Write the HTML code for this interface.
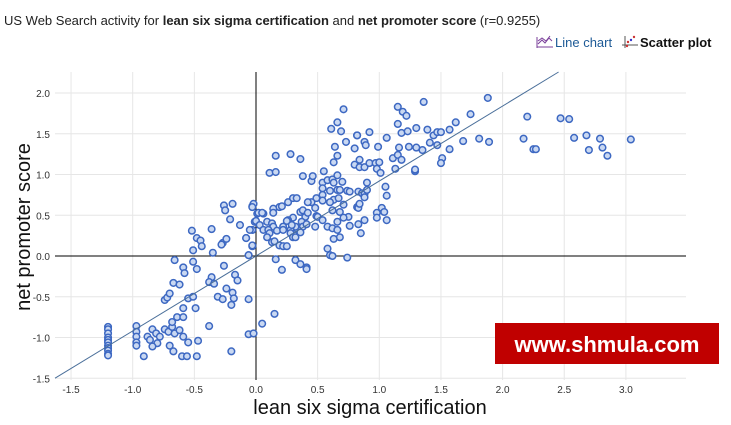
<!DOCTYPE html>
<html><head><meta charset="utf-8">
<style>
body{margin:0;width:731px;height:425px;background:#fff;overflow:hidden;font-family:"Liberation Sans",sans-serif;}
</style></head>
<body>
<svg id="chart" width="731" height="425" xmlns="http://www.w3.org/2000/svg" style="position:absolute;left:0;top:0">
<text x="4" y="25" font-size="13" fill="#222" font-family="Liberation Sans, sans-serif">US Web Search activity for <tspan font-weight="bold">lean six sigma certification</tspan> and <tspan font-weight="bold">net promoter score</tspan> (r=0.9255)</text>
<g>
<path d="M537 48 L537 37 M537 47 L553 47 M538 44 L542 40 L545 43 L549 38 L552 41 M538 41 L542 38 L546 41 L550 36" stroke="#7a3f9a" stroke-width="1" fill="none"/>
<text x="555" y="47" font-size="13" fill="#1d5a96">Line chart</text>
</g>
<g>
<path d="M625 48 L625 36 M622 45 L638 45" stroke="#555" stroke-width="1"/>
<circle cx="628" cy="42" r="1.2" fill="#c33"/><circle cx="631" cy="40" r="1.2" fill="#33c"/><circle cx="634" cy="37" r="1.2" fill="#c33"/><circle cx="627" cy="46" r="1.2" fill="#c33"/>
<text x="640" y="47" font-size="13" font-weight="bold" fill="#111">Scatter plot</text>
</g>
<g id="grid"></g>
<g id="marks"></g>
<text x="370" y="414" font-size="20" text-anchor="middle" fill="#111">lean six sigma certification</text>
<text transform="translate(30,227) rotate(-90)" font-size="20" text-anchor="middle" fill="#111">net promoter score</text>
<g>
<rect x="495" y="323" width="224" height="41" fill="#c00000"/>
<text x="607" y="352" font-size="22" font-weight="bold" fill="#fff" text-anchor="middle">www.shmula.com</text>
</g>
</svg>
<script>
const xTicks=[-1.5,-1.0,-0.5,0.0,0.5,1.0,1.5,2.0,2.5,3.0];
const yTicks=[-1.5,-1.0,-0.5,0.0,0.5,1.0,1.5,2.0];
const regSlope=0.92;
const regIntercept=0;
const xVals=[-1.2,-1.2,-1.2,-1.2,-1.2,-1.2,-1.2,-1.2,-1.2,-1.2,-1.2,
-0.97,-0.97,-0.97,-0.97,-0.97,-0.91,-0.88,-0.84,-0.81,-0.86,-0.80,-0.78,-0.84,-0.74,-0.71,-0.68,-0.68,-0.66,-0.62,-0.64,-0.59,-0.59,-0.67,-0.70,-0.59,-0.55,-0.6,-0.56,-0.48,-0.47,-0.74,-0.72,-0.70,-0.67,-0.62,-0.55,-0.51,-0.49,-0.66,-0.59,-0.58,-0.51,-0.48,-0.52,-0.48,-0.45,-0.44,-0.51,-0.36,-0.35,-0.26,-0.25,-0.19,-0.21,-0.13,-0.27,-0.24,-0.28,-0.08,-0.03,-0.03,-0.06,-0.26,-0.36,-0.38,-0.34,-0.24,-0.19,-0.17,-0.15,-0.31,-0.27,-0.18,-0.20,-0.06,-0.38,-0.06,-0.02,0.05,-0.03,0.01,0.06,-0.01,-0.2,
0.16,0.28,0.36,0.11,0.16,0.38,0.45,0.46,0.55,0.54,0.58,0.62,0.66,0.63,0.70,0.64,0.66,0.63,0.73,0.80,0.82,0.88,0.89,0.99,0.84,0.80,0.84,0.88,0.92,0.97,1.0,0.98,1.01,1.06,1.11,1.15,1.18,1.13,1.16,1.24,1.30,1.35,1.41,1.47,1.29,
0.54,0.60,0.66,0.54,0.74,0.76,0.83,0.86,0.88,0.90,0.90,0.88,1.05,1.06,0.98,0.98,1.02,1.04,1.06,0.82,0.83,0.84,0.75,0.71,0.76,0.83,0.88,0.85,0.58,0.62,0.66,0.68,0.63,0.66,0.58,0.60,0.62,0.74,0.68,0.63,0.67,0.71,0.68,0.62,0.60,0.49,0.54,0.45,0.48,0.42,0.36,0.38,0.40,0.42,0.37,0.38,0.41,0.34,0.30,0.32,0.28,0.26,0.49,0.50,0.54,0.48,0.26,0.30,0.33,0.19,0.21,0.14,0.14,0.02,0.05,-0.02,-0.03,
0.0,0.09,0.13,0.14,0.03,0.06,0.10,0.11,0.09,0.17,0.22,0.22,0.25,0.28,0.30,0.32,0.36,0.29,0.13,0.15,0.19,0.22,0.25,-0.05,-0.08,-0.03,-0.06,0.16,0.21,0.32,0.36,0.41,0.41,0.15,
0.71,1.15,1.36,1.88,1.19,1.22,0.66,0.61,0.69,1.15,1.18,1.23,1.30,1.39,1.44,1.47,1.50,1.57,1.62,1.74,0.82,0.92,1.68,1.81,1.89,2.17,2.20,2.25,2.27,2.47,2.54,2.58,2.68,2.70,2.79,2.81,2.85,3.04,1.57,1.51,1.50,1.29];
const yVals=[-0.87,-0.9,-0.95,-1.0,-1.03,-1.06,-1.1,-1.13,-1.16,-1.2,-1.22,
-0.86,-0.93,-0.99,-1.06,-1.10,-1.23,-0.99,-0.90,-0.95,-1.03,-1.07,-0.99,-1.11,-0.90,-0.93,-0.87,-0.81,-0.95,-0.91,-0.75,-0.75,-0.64,-1.17,-1.10,-0.99,-1.06,-1.23,-1.23,-1.23,-1.04,-0.54,-0.51,-0.46,-0.33,-0.35,-0.52,-0.50,-0.64,-0.05,-0.14,-0.21,-0.07,-0.16,0.31,0.22,0.19,0.12,0.07,0.33,0.04,0.62,0.56,0.64,0.45,0.38,0.16,0.21,0.14,0.22,0.32,0.12,0.01,-0.12,-0.26,-0.32,-0.34,-0.40,-0.45,-0.23,-0.30,-0.50,-0.53,-0.52,-0.60,-0.53,-0.86,-0.96,-0.95,-0.83,0.61,0.52,0.52,0.42,-1.17,
1.23,1.25,1.19,1.02,1.03,0.98,0.92,0.98,1.04,0.90,0.93,0.94,0.99,0.90,0.91,1.34,1.23,1.15,1.40,1.32,1.48,1.40,1.36,1.34,1.18,1.12,1.09,1.09,1.14,1.14,1.15,1.07,1.02,1.45,1.20,1.24,1.18,1.07,1.33,1.34,1.33,1.30,1.39,1.36,1.04,
0.83,0.80,0.81,0.75,0.80,0.79,0.79,0.77,0.76,0.90,0.81,0.72,0.85,0.74,0.53,0.47,0.59,0.54,0.44,0.60,0.59,0.64,0.48,0.47,0.37,0.39,0.44,0.28,0.36,0.34,0.32,0.23,0.21,0.42,0.09,0.01,0.0,-0.02,0.81,0.69,0.71,0.63,0.54,0.56,0.66,0.71,0.68,0.66,0.59,0.66,0.54,0.56,0.48,0.53,0.42,0.36,0.39,0.32,0.47,0.36,0.32,0.44,0.49,0.48,0.44,0.36,0.66,0.71,0.71,0.60,0.61,0.58,0.53,0.53,0.53,0.64,0.60,
0.43,0.42,0.40,0.36,0.38,0.32,0.32,0.28,0.23,0.31,0.36,0.32,0.43,0.28,0.23,0.23,0.29,0.38,0.17,0.18,0.13,0.12,0.12,0.32,0.22,0.13,0.01,-0.04,-0.17,-0.05,-0.10,-0.14,-0.16,-0.71,
1.80,1.83,1.89,1.94,1.77,1.72,1.64,1.56,1.53,1.62,1.51,1.53,1.57,1.55,1.48,1.52,1.52,1.55,1.64,1.74,1.48,1.52,1.41,1.44,1.40,1.44,1.71,1.31,1.31,1.69,1.68,1.45,1.48,1.30,1.44,1.33,1.23,1.43,1.31,1.20,1.14,1.06];

const L=55,R=686,T=72,B=380;
const xs=v=>256+(v)*123.3;
const ys=v=>256-(v)*81.5;
const NS="http://www.w3.org/2000/svg";
const grid=document.getElementById('grid');
const marks=document.getElementById('marks');
function mk(tag,attrs,parent){const e=document.createElementNS(NS,tag);for(const k in attrs)e.setAttribute(k,attrs[k]);parent.appendChild(e);return e;}
xTicks.forEach(t=>{
  const g=mk('line',{x1:xs(t),x2:xs(t),y1:T,y2:B,stroke:'#e6e6e6','stroke-width':1},grid);
  
  
  const lb=mk('text',{x:xs(t),y:393,'font-size':10,'text-anchor':'middle',fill:'#333'},grid);
  lb.textContent=t.toFixed(1);
  
  
});
yTicks.forEach(t=>{
  const g=mk('line',{x1:L,x2:R,y1:ys(t),y2:ys(t),stroke:'#e6e6e6','stroke-width':1},grid);
  
  
  const lb=mk('text',{x:50,y:ys(t)+4,'font-size':10,'text-anchor':'end',fill:'#333'},grid);
  lb.textContent=t.toFixed(1);
  
  
});
const za=mk('line',{x1:xs(0),x2:xs(0),y1:T,y2:B,stroke:'#000','stroke-width':1},grid);


const zb=mk('line',{x1:L,x2:R,y1:ys(0),y2:ys(0),stroke:'#000','stroke-width':1},grid);


xVals.forEach((x,i)=>{
  const c=mk('circle',{cx:xs(x),cy:ys(yVals[i]),r:3.3,fill:'#c9d8f2',stroke:'#3d68c2','stroke-width':1.5},marks);
  
  
});
// regression line clipped to plot
const x0=(ys.length,(256-B)/81.5/regSlope), x1=((256-T)/81.5-regIntercept)/regSlope;
const xa=Math.max(-1.63,(-1.5-regIntercept)/regSlope);
const rl=mk('line',{x1:xs(xa),y1:ys(regSlope*xa+regIntercept),x2:xs(x1),y2:T,stroke:'#4a6f9a','stroke-width':1},marks);


</script>
</body></html>
